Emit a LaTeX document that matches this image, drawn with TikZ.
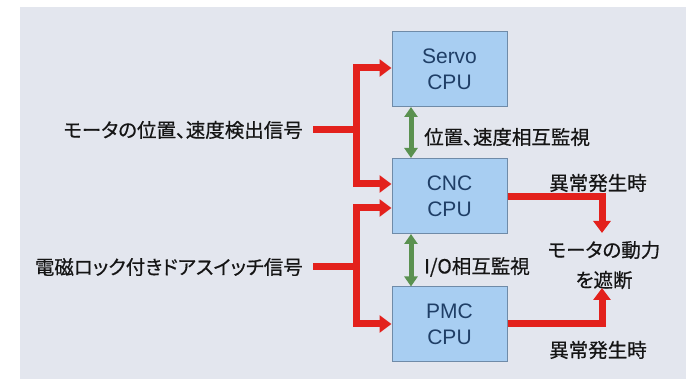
\documentclass[tikz,border=0pt]{standalone}
\usepackage{fontspec}
\setmainfont{Liberation Sans}
\newfontfamily\jp[RawFeature=+palt, FakeBold=0.6]{Noto Sans CJK JP}
\usetikzlibrary{arrows.meta}
\definecolor{bgc}{HTML}{E3E6EE}
\definecolor{boxc}{HTML}{A8CEF2}
\definecolor{bordc}{HTML}{6F8BA8}
\definecolor{txtc}{HTML}{1F3E66}
\definecolor{redc}{HTML}{E3211C}
\definecolor{greenc}{HTML}{5A9150}
\definecolor{labc}{HTML}{151515}
\begin{document}
\begin{tikzpicture}[x=1pt,y=-1pt,
  cpu/.style={draw=bordc, fill=boxc, line width=1pt, minimum width=115pt, minimum height=75pt,
    inner sep=0pt, align=center, text=txtc, font=\fontsize{21}{26}\selectfont},
  lab/.style={inner sep=0pt, text=labc, font=\jp\fontsize{19.5}{30}\selectfont, align=center},
  rl/.style={draw=redc, line width=7pt, line join=miter},
  rtip/.style={-{Triangle[length=12pt,width=17pt]}},
  gl/.style={draw=greenc, line width=5pt, {Triangle[length=10pt,width=13pt]}-{Triangle[length=10pt,width=13pt]}}
]
\useasboundingbox (0,0) rectangle (697,379);
\fill[bgc] (20,7) rectangle (686,379);

% CPU boxes
\node[cpu] (servo) at (449.5,69) {Servo\\CPU};
\node[cpu] (cnc) at (449.5,196) {CNC\\CPU};
\node[cpu] (pmc) at (449.5,324.5) {PMC\\CPU};

% labels
\node[lab, anchor=east] (l1) at (303,130) {モータの位置、速度検出信号};
\node[lab, anchor=east] (l2) at (303,267) {電磁ロック付きドアスイッチ信号};
\node[lab, anchor=west] (g1) at (424,137) {位置、速度相互監視};
\node[lab, anchor=west] (g2) at (424,267) {I/O相互監視};
\node[lab] (e1) at (598,183) {異常発生時};
\node[lab] (e2) at (598,350) {異常発生時};
\node[lab] (motor) at (604,265) {モータの動力\\を遮断};

% coordinates
\coordinate (v1t) at (356,68);
\coordinate (v1b) at (356,184);
\coordinate (v2t) at (356,208);
\coordinate (v2b) at (356,324);
\coordinate (r1) at (602,197);
\coordinate (r2) at (602,324);
\coordinate (t1) at (602,233);
\coordinate (t2) at (602,288);
\coordinate (gx) at (411,0);

% left red connectors
\draw[rl, {Triangle[length=12pt,width=17pt]}-{Triangle[length=12pt,width=17pt]}]
  (v1t -| servo.west) -- (v1t) -- (v1b) -- (v1b -| cnc.west);
\draw[rl] ([xshift=10pt]l1.east) -- (v1t |- l1.east);
\draw[rl, {Triangle[length=12pt,width=17pt]}-{Triangle[length=12pt,width=17pt]}]
  (v2t -| cnc.west) -- (v2t) -- (v2b) -- (v2b -| pmc.west);
\draw[rl] ([xshift=10pt]l2.east) -- (v2t |- l2.east);

% right red connectors
\draw[rl, rtip] (r1 -| cnc.east) -- (r1) -- (t1);
\draw[rl, rtip] (r2 -| pmc.east) -- (r2) -- (t2);

% green mutual monitoring
\draw[gl] (servo.south -| gx) -- (cnc.north -| gx);
\draw[gl] (cnc.south -| gx) -- (pmc.north -| gx);
\end{tikzpicture}
\end{document}
